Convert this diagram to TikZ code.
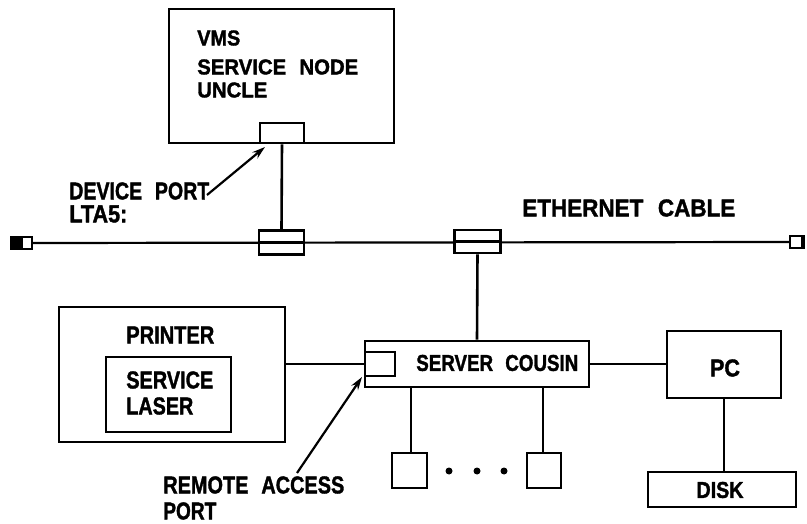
\documentclass[tikz,border=0pt]{standalone}
\usepackage{fontspec}
\usepackage{graphicx}
\setmainfont{Liberation Sans}[BoldFeatures={FakeBold=1.6}]
\usetikzlibrary{arrows.meta}
\newcommand{\fitlab}[3]{\resizebox{#1pt}{#2pt}{\bfseries #3}}
\newcommand{\gap}{\hspace{0.65em}}
\begin{document}
\begin{tikzpicture}[x=1pt,y=-1pt, line width=2.6pt,
 box/.style={draw, line width=2.6pt, inner sep=0pt, fill=white},
 lbl/.style={anchor=west, inner sep=0pt},
 clbl/.style={anchor=center, inner sep=0pt},
 ptr/.style={-{Stealth[length=13pt,width=8pt]}, line width=2.2pt},
 dot/.style={circle, fill=black, inner sep=0pt, minimum size=7pt}]
\useasboundingbox (0,0) rectangle (807,524);
% VMS service node
\node[box, minimum width=225pt, minimum height=134pt] (vms) at (281.5,76) {};
\node[box, minimum width=44pt, minimum height=20pt] (vport) at (282,133) {};
\node[lbl] (tvms) at (196,38) {\fitlab{43}{15}{VMS}};
\node[lbl] (tsn) at (196,67) {\fitlab{161}{15}{SERVICE\gap NODE}};
\node[lbl] (tun) at (196,90) {\fitlab{70}{15}{UNCLE}};
% Ethernet cable
\node[draw, fill=black, line width=1.5pt, minimum width=11pt, minimum height=13pt, inner sep=0pt] (tlb) at (16,243) {};
\node[draw, fill=white, line width=1.8pt, minimum width=10pt, minimum height=12pt, inner sep=0pt] (tlw) at (27,243) {};
\node[draw, fill=white, line width=1.8pt, minimum width=12pt, minimum height=12pt, inner sep=0pt] (trw) at (796,242) {};
\node[draw, fill=black, line width=1pt, minimum width=3pt, minimum height=13pt, inner sep=0pt] (trb) at (803,242) {};
\draw[line width=2.2pt] (tlw.east) -- (trw.west);
\node[box, minimum width=45pt, minimum height=24pt] (tx1) at (281.5,242.5) {};
\node[box, minimum width=46pt, minimum height=23pt] (tx2) at (477.5,241.5) {};
\draw[line width=2.2pt] (tx1.west) -- (tx1.east);
\draw[line width=2.2pt] (tx2.west) -- (tx2.east);
\draw (vport.south) -- (tx1.north);
\node[lbl] (teth) at (521,208) {\fitlab{213}{17}{ETHERNET\gap CABLE}};
% Device port label
\node[lbl] (tdp) at (68,191) {\fitlab{140}{17}{DEVICE\gap PORT}};
\node[lbl] (tlta) at (68,214) {\fitlab{58}{17}{LTA5:}};
\coordinate (dps) at (207,195);
\coordinate (dpe) at (265,147);
\draw[ptr] (dps) -- (dpe);
% Server
\node[box, minimum width=224pt, minimum height=46pt] (srv) at (477,364) {};
\node[box, minimum width=30pt, minimum height=24pt] (rport) at (380,364) {};
\node[lbl] (tsrv) at (415,363) {\fitlab{162}{16}{SERVER\gap COUSIN}};
\draw (tx2.south) -- (srv.north);
% Printer
\node[box, minimum width=226pt, minimum height=135pt] (prn) at (172,374.5) {};
\node[box, minimum width=125pt, minimum height=75pt] (lsr) at (168.5,394.5) {};
\node[lbl] (tprn) at (125,335) {\fitlab{88}{17}{PRINTER}};
\node[lbl] (tsvc) at (125,380) {\fitlab{87}{17}{SERVICE}};
\node[lbl] (tlsr) at (125,406) {\fitlab{67}{17}{LASER}};
\draw (srv.west -| prn.east) -- (srv.west);
% PC and disk
\node[box, minimum width=114pt, minimum height=67pt] (pc) at (724,364.5) {};
\node[clbl] (tpc) at (725,368) {\fitlab{30}{17}{PC}};
\draw (srv.east) -- (srv.east -| pc.west);
\node[box, minimum width=148pt, minimum height=35pt] (disk) at (722,489.5) {};
\node[clbl] (tdisk) at (720,490) {\fitlab{47}{16}{DISK}};
\draw (pc.south) -- (pc.south |- disk.north);
% Terminals
\node[box, minimum width=35pt, minimum height=35pt] (t1) at (409.5,470.5) {};
\node[box, minimum width=34pt, minimum height=35pt] (t2) at (544,470.5) {};
\draw (t1.north -| 411,0) -- (srv.south -| 411,0);
\draw (t2.north -| 543,0) -- (srv.south -| 543,0);
\node[dot] (d1) at (449,471) {};
\node[dot] (d2) at (477,471) {};
\node[dot] (d3) at (504,471) {};
% Remote access port label
\node[lbl] (tra) at (162,485) {\fitlab{181}{17}{REMOTE\gap ACCESS}};
\node[lbl] (tport) at (162,511) {\fitlab{53}{17}{PORT}};
\coordinate (ras) at (297,473);
\coordinate (rae) at (362,377);
\draw[ptr] (ras) -- (rae);
\end{tikzpicture}
\end{document}
